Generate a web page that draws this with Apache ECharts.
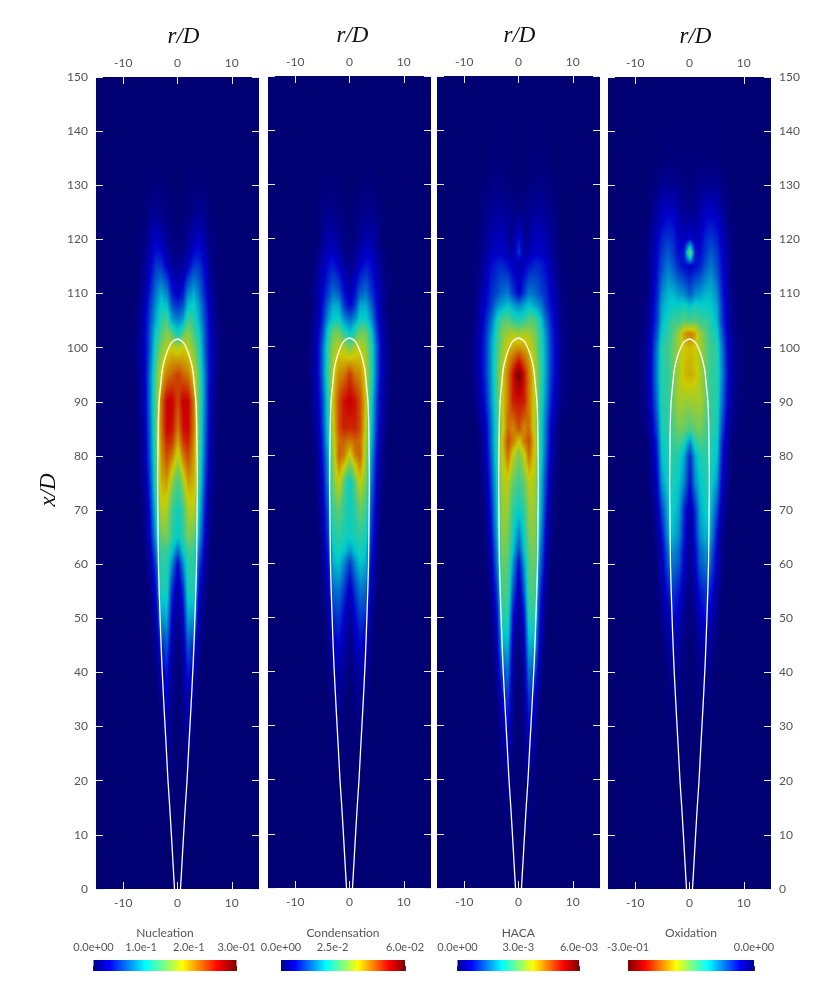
<!DOCTYPE html>
<html>
<head>
<meta charset="utf-8">
<style>html,body{margin:0;padding:0;background:#fff}#c{width:837px;height:1001px}</style>
<script src="https://cdn.jsdelivr.net/npm/echarts@6/dist/echarts.min.js"></script>
</head>
<body>
<div id="c"></div>
<script>
// x/D stations (rows) and |r/D| stations (columns) at which each field was read
const xStations = [0,10,20,30,35,40,45,50,55,60,62.5,65,70,75,80,82.5,85,90,95,100,102.5,105,107.5,110,115,117.5,120,125,130,135,150];
const rStations = [0,1,2,3,4,5,6,7,8,10];

// Field readings, in percent of the colour-bar span; one row per x/D station
const nucleation = [
[],[],[0,1,1],[0,2,6,1],[0,3,9,3],[0,4,14,8,1],[1,6,22,16,3],[3,10,32,30,6,1],[5,16,40,40,12,2],
[11,28,42,42,20,5,1],[24,36,44,44,26,7,1],[37,42,52,50,32,10,2],[38,44,58,60,38,14,3],[45,55,68,65,44,18,5,1],
[58,72,78,68,46,22,7,1],[66,80,83,70,47,23,7,1],[72,85,87,72,48,24,8,2],[78,88,88,72,48,26,9,2],[80,75,72,62,47,26,10,3],
[58,62,60,52,42,22,10,4,1],[38,48,55,46,38,22,10,3,1],[28,32,46,42,33,20,9,3],[18,22,36,38,30,18,8,3],[10,14,28,33,26,15,6,2],
[4,5,10,18,18,10,4,1],[2,3,6,12,13,8,3,1],[1,2,4,8,10,6,2,1],[0,1,1,3,4,3,1],[0,0,1,1,1,1],[],[]];
const condensation = [
[],[],[],[0,1,2,1],[0,2,4,2],[1,4,7,5,1],[2,7,12,9,2],[4,11,18,16,4],[8,18,26,24,8,1],
[18,28,36,33,12,2],[30,36,40,36,15,3],[38,40,42,40,18,4],[38,42,50,46,22,6,1],[36,48,62,52,28,8,2],
[60,72,76,56,32,12,3],[72,75,74,58,36,14,4],[82,83,78,60,38,16,5,1],[88,85,78,62,40,18,7,2],[80,72,70,60,44,22,8,3],
[50,58,60,55,42,22,8,3],[36,42,52,50,38,18,7,2],[24,30,38,38,30,14,6,2],[12,18,32,33,24,12,5],[7,13,22,25,18,10,5,2],
[3,5,10,14,12,7,3],[2,3,7,10,9,5,2],[1,2,4,7,7,4],[0,1,2,3,3,2,1],[0,0,1,1,1,1],[],[]];
const haca = [
[],[0,0,1],[0,1,3,1],[0,2,12,5],[0,3,18,10,1],[0,5,26,20,4],[1,8,34,32,8],[3,12,42,40,12,1],[6,22,46,46,18,3],
[12,30,48,50,26,6,1],[20,36,50,52,28,8,1],[26,38,52,54,32,10,2],[38,42,56,56,36,14,3],[44,50,60,58,38,18,5,1],
[52,60,74,60,42,22,8,2],[62,72,78,62,42,24,9,2],[78,70,74,58,42,24,10,3],[85,84,72,60,44,28,15,6,2],[100,85,72,60,46,30,18,8,3],
[68,66,64,54,44,30,18,9,3],[55,58,56,52,42,28,17,8,3],[40,42,48,46,38,24,15,7,2],[28,32,36,32,28,18,12,6,2],[10,18,26,24,20,16,10,5,1],
[7,9,13,16,15,12,7,3,1],[18,6,7,10,10,8,5,2,1],[12,4,5,9,9,7,4,2],[2,3,4,5,5,4,3,1],[0,1,1,2,2,2,1,1],[0,0,1,1,1,1],[]];
const oxidation = [
[],[],[],[0,0,1,1],[0,1,2,2,1],[0,1,3,4,2],[0,2,5,8,4,1],[1,3,9,12,8,3],[2,6,14,18,14,5,1],
[3,10,22,26,22,8,2],[3,11,24,29,25,9,2],[4,14,28,34,30,12,3],[6,16,32,38,34,20,6,1],[12,28,36,40,38,30,10,3],
[16,32,40,42,40,36,14,4],[28,42,46,44,40,38,16,5],[46,50,52,46,42,40,20,7,2],[56,56,58,50,42,42,25,10,3],[66,64,58,50,42,42,28,12,4],
[64,62,58,50,44,42,26,10,4],[72,68,56,48,42,38,22,9,3],[46,48,44,44,40,34,18,8,2],[36,40,38,38,36,32,17,8,2],[22,28,30,34,34,28,15,6,1],
[10,12,15,22,26,20,12,5,1],[55,14,12,18,22,18,11,5,1],[12,8,10,16,18,15,9,4,1],[3,4,6,10,10,9,5,2],[1,2,3,4,4,4,2,1],[1,1,1,1,1,1],[]];

// White flame contour: half-width r/D at each x/D
const contourX = [0,5,9.6,15,20,27,33,42,51.5,60,70,75,80.5,85,89.8,93,95.9,97.5,99,100.2,100.8,101.3,101.6];
const contourR = [0.55,0.84,1.1,1.42,1.75,2.12,2.45,2.9,3.25,3.5,3.6,3.65,3.6,3.55,3.4,3.1,2.8,2.45,2.0,1.5,1.2,0.7,0];

const fieldNames = ['Nucleation','Condensation','HACA','Oxidation'];
const fieldTables = [nucleation,condensation,haca,oxidation];
const barMins = [0,0,0,-0.3];
const barMaxs = [0.3,0.06,0.006,0];
const barTicks = [[0,0.1,0.2,0.3],[0,0.025,0.06],[0,0.003,0.006],[-0.3,0]];
const barTickLabels = [['0.0e+00','1.0e-1','2.0e-1','3.0e-01'],['0.0e+00','2.5e-2','6.0e-02'],['0.0e+00','3.0e-3','6.0e-03'],['-3.0e-01','0.0e+00']];
const rTicks = [-10,0,10];

// Layout
const panels = [
  {l:96,r:259,t:77,b:889,name:6},
  {l:268,r:431,t:76,b:888,name:3},
  {l:437,r:600,t:76,b:888,name:1},
  {l:608,r:771,t:77,b:889,name:6}
];
const bars = [[93.5,236.5],[281,405],[457.5,579],[628,754]];

const jetStops = [[0,0,0,.56],[.11,0,0,1],[.365,0,1,1],[.5,.5,1,.5],[.62,1,1,0],[.87,1,0,0],[1,.5,0,0]];
function jet(t){
  t = Math.max(0,Math.min(1,t));
  for(let i=1;i<jetStops.length;i++){
    if(t<=jetStops[i][0]){
      const a=jetStops[i-1],b=jetStops[i],f=(t-a[0])/(b[0]-a[0]);
      return [a[1]+(b[1]-a[1])*f,a[2]+(b[2]-a[2])*f,a[3]+(b[3]-a[3])*f];
    }
  }
  return [.5,0,0];
}
const FIELD_SHADE = 0.8;   // the field is lit slightly darker than its colour bar
const toCss = c => 'rgb('+c.map(v=>Math.round(v*255)).join(',')+')';
const navy = 'rgb('+jet(0).map(v=>Math.round(v*255*FIELD_SHADE)).join(',')+')';

function cellsFor(idx){
  const tbl = fieldTables[idx], span = barMaxs[idx]-barMins[idx], sign = barMins[idx]<0?-1:1;
  const val=(i,j)=>sign*((tbl[i][j]||0)/100*span);
  const out=[];
  for(let i=0;i<xStations.length-1;i++){
    for(let j=0;j<rStations.length-1;j++){
      for(const s of [1,-1]){
        out.push([s*rStations[j],xStations[i],val(i,j),s*rStations[j+1],xStations[i+1],val(i,j+1),val(i+1,j),val(i+1,j+1)]);
      }
    }
  }
  return out;
}

function fieldRenderer(idx){
  const span = barMaxs[idx]-barMins[idx];
  return function(params,api){
    const v00=Math.abs(api.value(2)),v10=Math.abs(api.value(5)),v01=Math.abs(api.value(6)),v11=Math.abs(api.value(7));
    if(v00+v10+v01+v11===0) return null;
    const a=api.coord([api.value(0),api.value(1)]),b=api.coord([api.value(3),api.value(4)]);
    const x0=Math.round(Math.min(a[0],b[0])),x1=Math.round(Math.max(a[0],b[0]));
    const y0=Math.round(Math.min(a[1],b[1])),y1=Math.round(Math.max(a[1],b[1]));
    const w=x1-x0,h=y1-y0;
    if(w<=0||h<=0) return null;
    const cv=document.createElement('canvas');cv.width=w;cv.height=h;
    const ctx=cv.getContext('2d'),im=ctx.createImageData(w,h);
    const flipX=a[0]>b[0];
    for(let py=0;py<h;py++){
      const fy=1-(py+.5)/h;
      for(let px=0;px<w;px++){
        let fx=(px+.5)/w; if(flipX) fx=1-fx;
        const v=(v00*(1-fx)+v10*fx)*(1-fy)+(v01*(1-fx)+v11*fx)*fy;
        const c=jet(v/span),k=(py*w+px)*4;
        im.data[k]=c[0]*255*FIELD_SHADE;im.data[k+1]=c[1]*255*FIELD_SHADE;im.data[k+2]=c[2]*255*FIELD_SHADE;im.data[k+3]=255;
      }
    }
    ctx.putImageData(im,0,0);
    return {type:'image',style:{image:cv,x:x0,y:y0,width:w,height:h}};
  };
}

const contourPath=[];
contourX.forEach((x,i)=>contourPath.push([-contourR[i],x]));
for(let i=contourX.length-2;i>=0;i--) contourPath.push([contourR[i],contourX[i]]);

const labelFont='Lato';
const labelColor='#555';
const grid=[],xAxis=[],yAxis=[],series=[];
panels.forEach((p,i)=>{
  grid.push({left:p.l,top:p.t,width:p.r-p.l,height:p.b-p.t,show:true,backgroundColor:navy,borderWidth:0});
  ['bottom','top'].forEach(pos=>{
    xAxis.push({type:'value',gridIndex:i,position:pos,min:-15,max:15,interval:5,splitLine:{show:false},
      axisLine:{show:false,onZero:false},
      axisTick:{show:true,inside:true,length:7,customValues:rTicks,lineStyle:{color:'#e8e8f8',width:1}},
      axisLabel:{show:true,customValues:rTicks,margin:8,fontFamily:labelFont,fontSize:12,color:labelColor},
      name:pos==='top'?'r/D':'',nameLocation:'middle',nameGap:29,
      nameTextStyle:{fontFamily:'Liberation Serif',fontStyle:'italic',fontSize:23,color:'#111',padding:[0,0,0,p.name*2]}});
  });
  ['left','right'].forEach(pos=>{
    const showLab=(i===0&&pos==='left')||(i===3&&pos==='right');
    yAxis.push({type:'value',gridIndex:i,position:pos,min:0,max:150,interval:10,splitLine:{show:false},
      axisLine:{show:false,onZero:false},
      axisTick:{show:true,inside:true,length:7,lineStyle:{color:'#e8e8f8',width:1}},
      axisLabel:{show:showLab,margin:8,fontFamily:labelFont,fontSize:12,color:labelColor},
      name:(i===0&&pos==='left')?'x/D':'',nameLocation:'middle',nameGap:36,
      nameTextStyle:{fontFamily:'Liberation Serif',fontStyle:'italic',fontSize:23,color:'#111',padding:[0,14,0,0]}});
  });
  series.push({type:'custom',name:fieldNames[i],coordinateSystem:'cartesian2d',xAxisIndex:i*2,yAxisIndex:i*2,
    data:cellsFor(i),renderItem:fieldRenderer(i),clip:true,silent:true,animation:false,progressive:0,z:2,
    encode:{x:[0,3],y:[1,4]}});
  series.push({type:'line',name:fieldNames[i]+' contour',xAxisIndex:i*2,yAxisIndex:i*2,data:contourPath,
    showSymbol:false,symbol:'none',smooth:0.25,lineStyle:{color:'#fff',width:1.3},silent:true,animation:false,z:5});
});

bars.forEach((b,i)=>{
  const g=panels.length+i;
  grid.push({left:b[0],top:960,width:b[1]-b[0],height:11,show:false});
  const labs=barTickLabels[i],tks=barTicks[i];
  xAxis.push({type:'value',gridIndex:g,position:'top',min:barMins[i],max:barMaxs[i],splitLine:{show:false},
    axisLine:{show:false},
    axisTick:{show:true,length:5,customValues:tks,lineStyle:{color:'#333',width:1}},
    axisLabel:{show:true,customValues:tks,margin:7,hideOverlap:false,showMinLabel:true,showMaxLabel:true,fontFamily:labelFont,fontSize:11,color:labelColor,
      formatter:v=>{const k=tks.findIndex(t=>Math.abs(t-v)<1e-9);return k>=0?labs[k]:'';}},
    name:fieldNames[i],nameLocation:'middle',nameGap:21,nameTextStyle:{fontFamily:labelFont,fontSize:12,color:labelColor}});
  yAxis.push({type:'value',gridIndex:g,min:0,max:1,show:false});
  const rev=barMins[i]<0;
  const stops=jetStops.map(s=>({offset:rev?1-s[0]:s[0],color:toCss([s[1],s[2],s[3]])})).sort((a,c)=>a.offset-c.offset);
  series.push({type:'custom',name:fieldNames[i]+' bar',coordinateSystem:'cartesian2d',
    xAxisIndex:panels.length*2+i,yAxisIndex:panels.length*2+i,data:[[barMins[i],barMaxs[i]]],silent:true,animation:false,z:2,
    renderItem:(pr,api)=>{
      const a=api.coord([api.value(0),0]),c=api.coord([api.value(1),1]);
      return {type:'rect',shape:{x:a[0],y:c[1],width:c[0]-a[0],height:a[1]-c[1]},
        style:{fill:new echarts.graphic.LinearGradient(0,0,1,0,stops)}};
    }});
});

const chart=echarts.init(document.getElementById('c'),null,{renderer:'canvas'});
chart.setOption({animation:false,backgroundColor:'#fff',tooltip:{show:false},grid,xAxis,yAxis,series});
</script>
</body>
</html>
